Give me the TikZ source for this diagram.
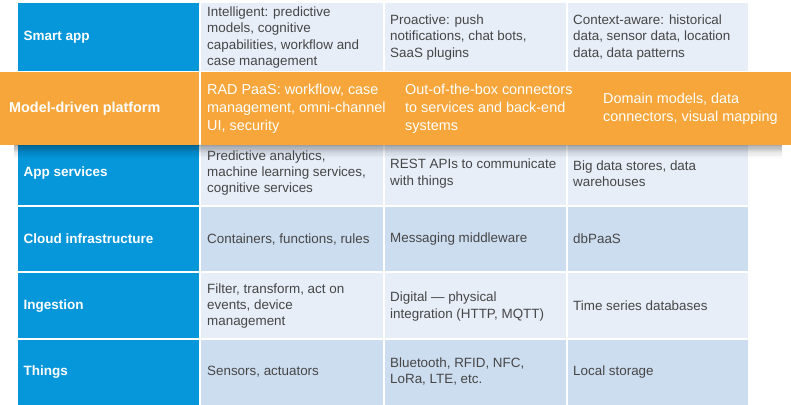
\documentclass[tikz,border=0pt]{standalone}
\usepackage{fontspec}
\setmainfont{Liberation Sans}
\definecolor{iotblue}{RGB}{6,150,218}
\definecolor{celllight}{RGB}{231,238,248}
\definecolor{celldark}{RGB}{205,221,240}
\definecolor{band}{RGB}{246,166,58}
\definecolor{txtgray}{RGB}{70,70,70}
\begin{document}
\begin{tikzpicture}[x=1pt,y=-1pt,
  bluecell/.style={fill=iotblue, draw=white, line width=1.5pt},
  lightcell/.style={fill=celllight, draw=white, line width=1.5pt},
  darkcell/.style={fill=celldark, draw=white, line width=1.5pt},
  lbl/.style={anchor=west, inner sep=0pt, text=white, font=\fontsize{13.5}{16}\selectfont\bfseries},
  txt/.style={anchor=west, inner sep=0pt, align=left, text=txtgray, font=\fontsize{13.4}{16.2}\selectfont},
  otxt/.style={anchor=west, inner sep=0pt, align=left, text=white, font=\fontsize{14.4}{17.8}\selectfont},
  olbl/.style={anchor=west, inner sep=0pt, text=white, font=\fontsize{14.4}{17.8}\selectfont\bfseries}]
\useasboundingbox (0,0) rectangle (791,404);
\fill[white] (0,0) rectangle (791,404);
% table cells
\foreach \ya/\yb/\st in {2/72/lightcell, 72/206/lightcell, 206/272/darkcell, 272/339/lightcell, 339/406/darkcell}{
  \path[bluecell] (17,\ya) rectangle (200,\yb);
  \path[\st] (200,\ya) rectangle (384,\yb);
  \path[\st] (384,\ya) rectangle (567,\yb);
  \path[\st] (567,\ya) rectangle (749,\yb);
}
% shadow of the band (stacked strips)
\foreach \i in {0,...,11}{
  \pgfmathsetmacro{\op}{0.055*(1-\i/12)}
  \fill[black, opacity=\op] (14,145) rectangle (782,{146.2+\i*1.2});
}
% orange band
\fill[band] (0,72) rectangle (791,145);
\draw[white, line width=1.5pt] (200,72) -- (200,145);
% row 1
\node[lbl] (l1) at (23.5,37.5) {Smart app};
\node[txt] (c11) at (207,37.5) {Intelligent: predictive\\models, cognitive\\capabilities, workflow and\\case management};
\node[txt] (c12) at (390,37.5) {Proactive: push\\notifications, chat bots,\\SaaS plugins};
\node[txt] (c13) at (573,37.5) {Context-aware: historical\\data, sensor data, location\\data, data patterns};
% band
\node[olbl] (l2) at (9,109) {Model-driven platform};
\node[otxt] (c21) at (207,109) {RAD PaaS: workflow, case\\management, omni-channel\\UI, security};
\node[otxt] (c22) at (405,109) {Out-of-the-box connectors\\to services and back-end\\systems};
\node[otxt] (c23) at (603,109) {Domain models, data\\connectors, visual mapping};
% app services
\node[lbl] (l3) at (23.5,173) {App services};
\node[txt] (c31) at (207,173) {Predictive analytics,\\machine learning services,\\cognitive services};
\node[txt] (c32) at (390,173.5) {REST APIs to communicate\\with things};
\node[txt] (c33) at (573,173.5) {Big data stores, data\\warehouses};
% cloud
\node[lbl] (l4) at (23.5,239) {Cloud infrastructure};
\node[txt] (c41) at (207,239) {Containers, functions, rules};
\node[txt] (c42) at (390,239) {Messaging middleware};
\node[txt] (c43) at (573,239) {dbPaaS};
% ingestion
\node[lbl] (l5) at (23.5,306) {Ingestion};
\node[txt] (c51) at (207,306) {Filter, transform, act on\\events, device\\management};
\node[txt] (c52) at (390,306.5) {Digital — physical\\integration (HTTP, MQTT)};
\node[txt] (c53) at (573,306) {Time series databases};
% things
\node[lbl] (l6) at (23.5,372) {Things};
\node[txt] (c61) at (207,372) {Sensors, actuators};
\node[txt] (c62) at (390,371.5) {Bluetooth, RFID, NFC,\\LoRa, LTE, etc.};
\node[txt] (c63) at (573,372) {Local storage};
\end{tikzpicture}
\end{document}
